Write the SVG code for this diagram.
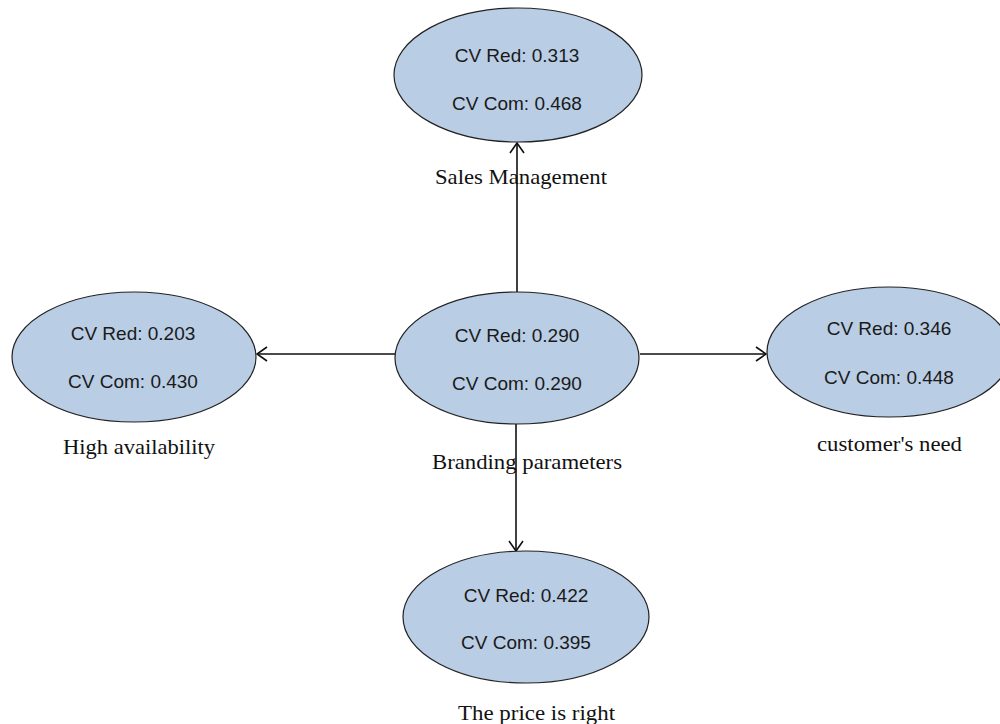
<svg xmlns="http://www.w3.org/2000/svg" width="1000" height="724" viewBox="0 0 1000 724">
<defs>
<style>
.node ellipse{fill:#b9cde5;stroke:#222;stroke-width:1.2}
.cv{font-family:"Liberation Sans",Arial,sans-serif;font-size:19px;fill:#1a1a1a;text-anchor:middle}
.lbl{font-family:"Liberation Serif","Times New Roman",serif;font-size:21.5px;fill:#111;text-anchor:middle}
.edge{stroke:#111;stroke-width:1.6;fill:none}
</style>
<marker id="arr" viewBox="0 0 12 16" refX="11" refY="8" markerWidth="12" markerHeight="16" markerUnits="userSpaceOnUse" orient="auto">
<path d="M1,1 L11,8 L1,15" fill="none" stroke="#111" stroke-width="1.6"/>
</marker>
</defs>
<rect width="1000" height="724" fill="#fff"/>
<g id="connectors">
<line class="edge" x1="517" y1="292" x2="517" y2="143" marker-end="url(#arr)"/>
<line class="edge" x1="395" y1="354" x2="257" y2="354" marker-end="url(#arr)"/>
<line class="edge" x1="640" y1="354" x2="766" y2="354" marker-end="url(#arr)"/>
<line class="edge" x1="516" y1="424" x2="516" y2="551" marker-end="url(#arr)"/>
</g>
<g id="sales" class="node">
<ellipse cx="518" cy="75" rx="124" ry="67"/>
<text class="cv" x="517" y="62">CV Red: 0.313</text>
<text class="cv" x="517" y="110">CV Com: 0.468</text>
<text class="lbl" x="521" y="184" textLength="172" lengthAdjust="spacingAndGlyphs">Sales Management</text>
</g>
<g id="high" class="node">
<ellipse cx="134" cy="357" rx="122" ry="65"/>
<text class="cv" x="133" y="340">CV Red: 0.203</text>
<text class="cv" x="133" y="388">CV Com: 0.430</text>
<text class="lbl" x="139" y="454" textLength="152" lengthAdjust="spacingAndGlyphs">High availability</text>
</g>
<g id="branding" class="node">
<ellipse cx="517" cy="358" rx="122" ry="66"/>
<text class="cv" x="517" y="342">CV Red: 0.290</text>
<text class="cv" x="517" y="390">CV Com: 0.290</text>
<text class="lbl" x="527" y="469" textLength="190" lengthAdjust="spacingAndGlyphs">Branding parameters</text>
</g>
<g id="customer" class="node">
<ellipse cx="889" cy="352" rx="122" ry="65"/>
<text class="cv" x="889" y="335">CV Red: 0.346</text>
<text class="cv" x="889" y="384">CV Com: 0.448</text>
<text class="lbl" x="889.5" y="451" textLength="145" lengthAdjust="spacingAndGlyphs">customer's need</text>
</g>
<g id="price" class="node">
<ellipse cx="526" cy="617" rx="123" ry="66"/>
<text class="cv" x="526" y="602">CV Red: 0.422</text>
<text class="cv" x="526" y="649">CV Com: 0.395</text>
<text class="lbl" x="536.5" y="720" textLength="157" lengthAdjust="spacingAndGlyphs">The price is right</text>
</g>
</svg>
